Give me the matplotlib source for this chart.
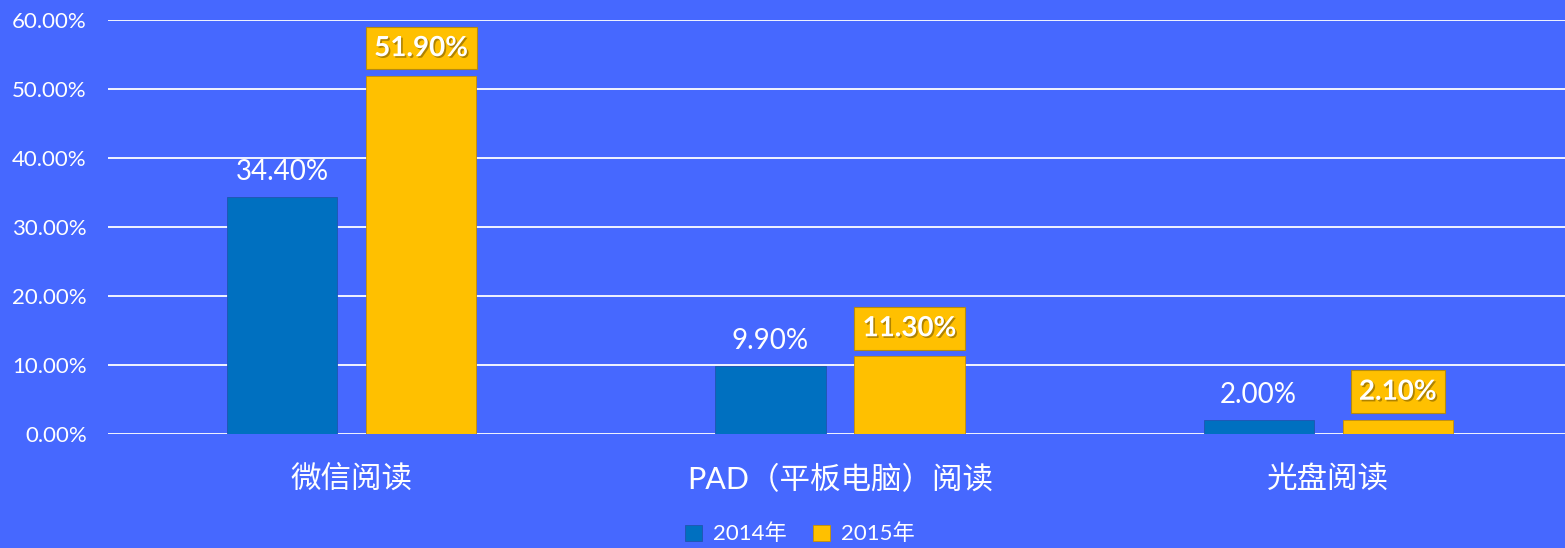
import matplotlib
matplotlib.use("Agg")
import matplotlib.pyplot as plt
import matplotlib.patheffects as pe
import numpy as np

plt.rcParams['font.family'] = ['Lato', 'Noto Sans CJK SC', 'DejaVu Sans']

categories = ["微信阅读", "PAD（平板电脑）阅读", "光盘阅读"]
series_names = ["2014年", "2015年"]
values_2014 = [34.40, 9.90, 2.00]
values_2015 = [51.90, 11.30, 2.10]
yticks = [0, 10, 20, 30, 40, 50, 60]

bg = "#4668FF"
c2014 = "#0070C0"
c2015 = "#FFC000"

fig = plt.figure(figsize=(15.65, 5.48), dpi=100)
fig.patch.set_facecolor(bg)
ax = fig.add_axes([107.5/1565, 114/548, 1465/1565, 414/548])
ax.set_facecolor(bg)

x = np.arange(len(categories))
w = 0.226
off = 0.1425
b1 = ax.bar(x - off, values_2014, w, color=c2014, edgecolor="#1F55B0", linewidth=0.6, label=series_names[0], zorder=3)
b2 = ax.bar(x + off, values_2015, w, color=c2015, edgecolor="#C89000", linewidth=0.6, label=series_names[1], zorder=3)

ax.set_xlim(-0.5, 2.5)
ax.set_ylim(0, 60)
ax.set_yticks(yticks)
ax.set_yticklabels([f"{v:.2f}%" for v in yticks], color="white", fontsize=16)
ax.yaxis.grid(True, color="white", linewidth=1.3, zorder=0)
ax.set_axisbelow(True)
ax.tick_params(axis="y", length=0, pad=15)
ax.set_xticks(x)
ax.set_xticklabels(categories, color="white", fontsize=22)
ax.tick_params(axis="x", length=0, pad=22)
for s in ax.spines.values():
    s.set_visible(False)

for xi, v in zip(x - off, values_2014):
    ax.annotate(f"{v:.2f}%", (xi, v), xytext=(0, 18), textcoords="offset points",
                ha="center", va="center", color="white", fontsize=20, zorder=5)

for xi, v in zip(x + off, values_2015):
    ax.annotate(f"{v:.2f}%", (xi, v), xytext=(0, 20), textcoords="offset points",
                ha="center", va="center", color="white", fontsize=20, fontweight="bold", zorder=5,
                bbox=dict(boxstyle="square,pad=0.3", facecolor=c2015, edgecolor="#B58A10", linewidth=0.8),
                path_effects=[pe.withSimplePatchShadow(offset=(1.2, -1.2), shadow_rgbFace="#7a5a00", alpha=0.6)])

leg = fig.legend(handles=[b1, b2], labels=series_names, loc="lower center",
                 bbox_to_anchor=(0.511, -0.03), ncol=2, frameon=False, fontsize=16,
                 labelcolor="white", handlelength=0.75, handleheight=0.75, columnspacing=1.2, handletextpad=0.5)

fig.savefig("out.png", dpi=100, facecolor=bg)
